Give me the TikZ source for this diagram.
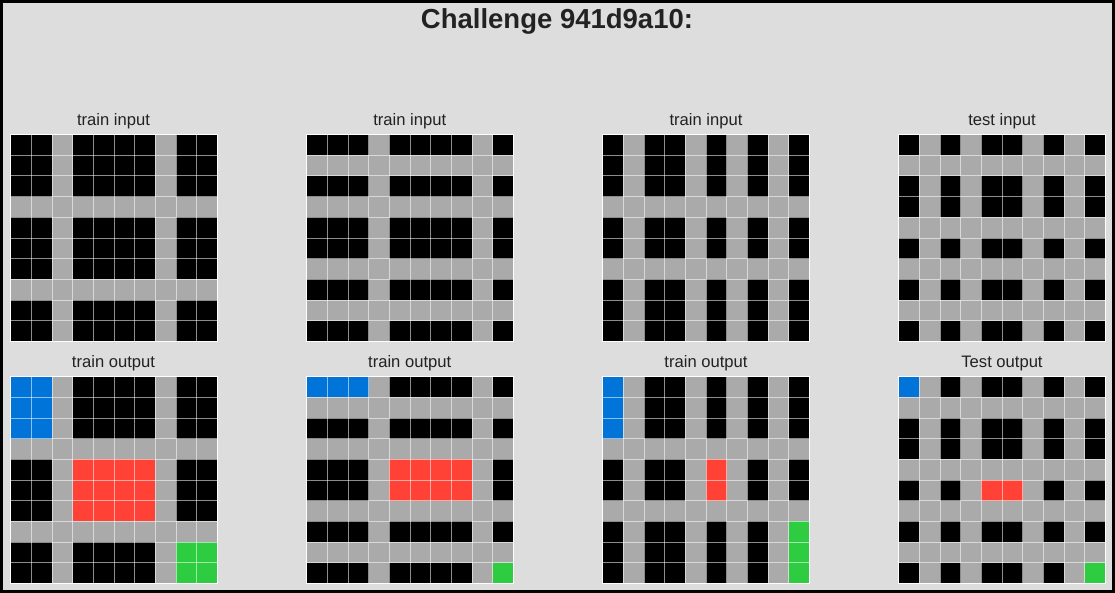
\documentclass[tikz,border=0pt]{standalone}
\usepackage{fontspec}
\setmainfont{Liberation Sans}
\definecolor{bg}{HTML}{DDDDDD}
\definecolor{c0}{HTML}{000000}
\definecolor{c5}{HTML}{AAAAAA}
\definecolor{c1}{HTML}{0074D9}
\definecolor{c2}{HTML}{FF4136}
\definecolor{c3}{HTML}{2ECC40}
\definecolor{txt}{HTML}{222222}
\def\cellsz{20.7}
\tikzset{
  gridline/.style={white, opacity=0.55, line width=0.8pt},
  gridframe/.style={white, line width=1.3pt},
  lbl/.style={text=txt, font=\fontsize{16.6}{18}\selectfont, inner sep=0pt, anchor=center},
  ttl/.style={text=txt, font=\fontsize{27.5}{30}\selectfont\bfseries, inner sep=0pt, anchor=center}
}
\newcommand\arcgrid[3]{%
  \begin{scope}[shift={(#1,#2)}]
    \foreach \row [count=\r from 0] in {#3} {
      \foreach \c [count=\k from 0] in \row {
        \fill[fill=c\c] (\k*\cellsz,\r*\cellsz) rectangle ++(\cellsz,\cellsz);
      }
    }
    \foreach \i in {1,...,9} {
      \draw[gridline] (\i*\cellsz,0) -- ++(0,10*\cellsz);
      \draw[gridline] (0,\i*\cellsz) -- ++(10*\cellsz,0);
    }
    \draw[gridframe] (0,0) rectangle (10*\cellsz,10*\cellsz);
  \end{scope}}
\begin{document}
\begin{tikzpicture}[x=1pt,y=-1pt]
\useasboundingbox (0,0) rectangle (1115,593);
\draw[fill=bg, line width=3pt] (1.5,1.5) rectangle (1113.5,591.5);
\node[ttl] (title) at (557,21) {Challenge 941d9a10:};
% top row labels
\node[lbl] (l1) at (113.5,121.5) {train input};
\node[lbl] (l2) at (409.7,121.5) {train input};
\node[lbl] (l3) at (706,121.5) {train input};
\node[lbl] (l4) at (1002,121.5) {test input};
\node[lbl] (l5) at (113.5,363.5) {train output};
\node[lbl] (l6) at (409.7,363.5) {train output};
\node[lbl] (l7) at (706,363.5) {train output};
\node[lbl] (l8) at (1002,363.5) {Test output};
% grid 1 input
\arcgrid{10.5}{134.5}{
{0,0,5,0,0,0,0,5,0,0},{0,0,5,0,0,0,0,5,0,0},{0,0,5,0,0,0,0,5,0,0},
{5,5,5,5,5,5,5,5,5,5},
{0,0,5,0,0,0,0,5,0,0},{0,0,5,0,0,0,0,5,0,0},{0,0,5,0,0,0,0,5,0,0},
{5,5,5,5,5,5,5,5,5,5},
{0,0,5,0,0,0,0,5,0,0},{0,0,5,0,0,0,0,5,0,0}}
% grid 2 input
\arcgrid{306.5}{134.5}{
{0,0,0,5,0,0,0,0,5,0},
{5,5,5,5,5,5,5,5,5,5},
{0,0,0,5,0,0,0,0,5,0},
{5,5,5,5,5,5,5,5,5,5},
{0,0,0,5,0,0,0,0,5,0},{0,0,0,5,0,0,0,0,5,0},
{5,5,5,5,5,5,5,5,5,5},
{0,0,0,5,0,0,0,0,5,0},
{5,5,5,5,5,5,5,5,5,5},
{0,0,0,5,0,0,0,0,5,0}}
% grid 3 input
\arcgrid{602.5}{134.5}{
{0,5,0,0,5,0,5,0,5,0},{0,5,0,0,5,0,5,0,5,0},{0,5,0,0,5,0,5,0,5,0},
{5,5,5,5,5,5,5,5,5,5},
{0,5,0,0,5,0,5,0,5,0},{0,5,0,0,5,0,5,0,5,0},
{5,5,5,5,5,5,5,5,5,5},
{0,5,0,0,5,0,5,0,5,0},{0,5,0,0,5,0,5,0,5,0},{0,5,0,0,5,0,5,0,5,0}}
% grid 4 test input
\arcgrid{898.5}{134.5}{
{0,5,0,5,0,0,5,0,5,0},
{5,5,5,5,5,5,5,5,5,5},
{0,5,0,5,0,0,5,0,5,0},{0,5,0,5,0,0,5,0,5,0},
{5,5,5,5,5,5,5,5,5,5},
{0,5,0,5,0,0,5,0,5,0},
{5,5,5,5,5,5,5,5,5,5},
{0,5,0,5,0,0,5,0,5,0},
{5,5,5,5,5,5,5,5,5,5},
{0,5,0,5,0,0,5,0,5,0}}
% grid 1 output
\arcgrid{10.5}{376.5}{
{1,1,5,0,0,0,0,5,0,0},{1,1,5,0,0,0,0,5,0,0},{1,1,5,0,0,0,0,5,0,0},
{5,5,5,5,5,5,5,5,5,5},
{0,0,5,2,2,2,2,5,0,0},{0,0,5,2,2,2,2,5,0,0},{0,0,5,2,2,2,2,5,0,0},
{5,5,5,5,5,5,5,5,5,5},
{0,0,5,0,0,0,0,5,3,3},{0,0,5,0,0,0,0,5,3,3}}
% grid 2 output
\arcgrid{306.5}{376.5}{
{1,1,1,5,0,0,0,0,5,0},
{5,5,5,5,5,5,5,5,5,5},
{0,0,0,5,0,0,0,0,5,0},
{5,5,5,5,5,5,5,5,5,5},
{0,0,0,5,2,2,2,2,5,0},{0,0,0,5,2,2,2,2,5,0},
{5,5,5,5,5,5,5,5,5,5},
{0,0,0,5,0,0,0,0,5,0},
{5,5,5,5,5,5,5,5,5,5},
{0,0,0,5,0,0,0,0,5,3}}
% grid 3 output
\arcgrid{602.5}{376.5}{
{1,5,0,0,5,0,5,0,5,0},{1,5,0,0,5,0,5,0,5,0},{1,5,0,0,5,0,5,0,5,0},
{5,5,5,5,5,5,5,5,5,5},
{0,5,0,0,5,2,5,0,5,0},{0,5,0,0,5,2,5,0,5,0},
{5,5,5,5,5,5,5,5,5,5},
{0,5,0,0,5,0,5,0,5,3},{0,5,0,0,5,0,5,0,5,3},{0,5,0,0,5,0,5,0,5,3}}
% grid 4 test output
\arcgrid{898.5}{376.5}{
{1,5,0,5,0,0,5,0,5,0},
{5,5,5,5,5,5,5,5,5,5},
{0,5,0,5,0,0,5,0,5,0},{0,5,0,5,0,0,5,0,5,0},
{5,5,5,5,5,5,5,5,5,5},
{0,5,0,5,2,2,5,0,5,0},
{5,5,5,5,5,5,5,5,5,5},
{0,5,0,5,0,0,5,0,5,0},
{5,5,5,5,5,5,5,5,5,5},
{0,5,0,5,0,0,5,0,5,3}}
\end{tikzpicture}
\end{document}
